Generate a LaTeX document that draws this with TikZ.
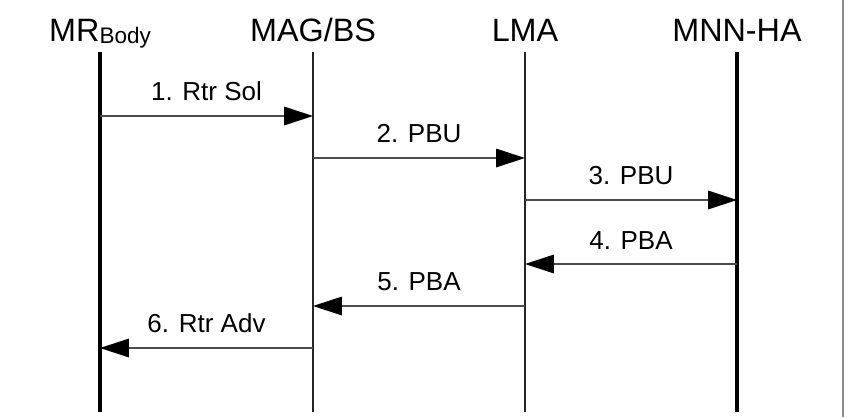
\documentclass[tikz,border=0pt]{standalone}
\usepackage{fontspec}
\setmainfont{Liberation Sans}
\usetikzlibrary{arrows.meta, positioning}

\begin{document}
\begin{tikzpicture}[x=0.025cm, y=-0.025cm,
  entity/.style={font=\fontsize{23}{26}\selectfont, inner sep=0pt, anchor=base},
  life/.style={black!85, line width=1.3pt},
  msg/.style={draw=black!70, line width=1.2pt, -{Triangle[length=0.72cm, width=0.46cm, black]}},
  lbl/.style={font=\fontsize{18.5}{21}\selectfont, midway, above=10pt, inner sep=0pt}]
  \useasboundingbox (0,0) rectangle (849,417);

  % frame on the right
  \draw[black!45, line width=1.2pt] (843,0) -- (843,417);

  % the four entities
  \node[entity] (mr)  at (100,41) {MR{\fontsize{16}{16}\selectfont\raisebox{-2pt}{Body}}};
  \node[entity] (mag) at (313,41) {MAG/BS};
  \node[entity] (lma) at (525,41) {LMA};
  \node[entity] (mnn) at (737,41) {MNN-HA};

  % lifelines
  \draw[life, black, line width=2.2pt] (mr |- 0,52) -- (mr |- 0,412);
  \draw[life] (mag |- 0,52) -- (mag |- 0,412);
  \draw[life] (lma |- 0,52) -- (lma |- 0,412);
  \draw[life, black, line width=2.2pt] (mnn |- 0,52) -- (mnn |- 0,412);

  % messages
  \draw[msg] (mr |- 0,116) -- node[lbl] {1. Rtr Sol} (mag |- 0,116);
  \draw[msg] (mag |- 0,158) -- node[lbl] {2. PBU} (lma |- 0,158);
  \draw[msg] (lma |- 0,200) -- node[lbl] {3. PBU} (mnn |- 0,200);
  \draw[msg] (mnn |- 0,264) -- node[lbl] {4. PBA} (lma |- 0,264);
  \draw[msg] (lma |- 0,306) -- node[lbl] {5. PBA} (mag |- 0,306);
  \draw[msg] (mag |- 0,348) -- node[lbl] {6. Rtr Adv} (mr |- 0,348);
\end{tikzpicture}
\end{document}
